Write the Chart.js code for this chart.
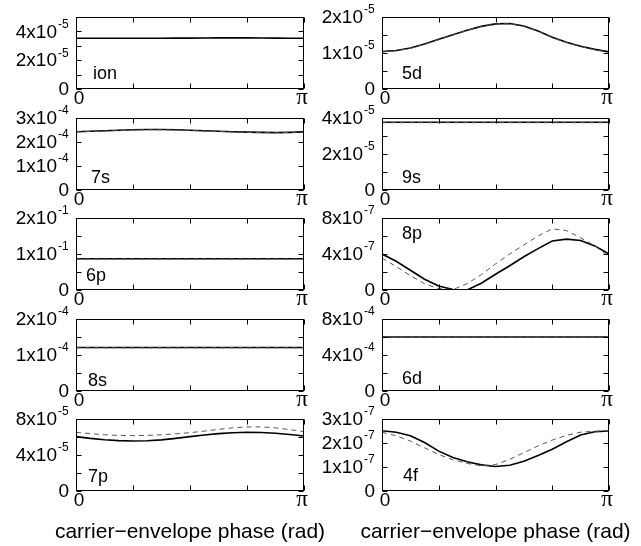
<!DOCTYPE html>
<html>
<head>
<meta charset="utf-8">
<script src="https://cdn.jsdelivr.net/npm/chart.js@4.4.1/dist/chart.umd.min.js"></script>
<style>
  html, body { margin: 0; padding: 0; background: #fff; }
  #wrap { position: relative; width: 641px; height: 546px; overflow: hidden; }
  #wrap canvas { position: absolute; }
</style>
</head>
<body>
<div id="wrap"></div>
<script>
// phase grid from 0 to pi (rad)
const phase = [0, 0.196, 0.393, 0.589, 0.785, 0.982, 1.178, 1.374, 1.571,
               1.767, 1.963, 2.160, 2.356, 2.553, 2.749, 2.945, 3.1416];
const xTicks = [0, 0.785, 1.571, 2.356, 3.1416];
const xTickLabels = ['0', 'π'];
const xTitle = 'carrier\u2212envelope phase (rad)';

// ion, units of 1e-5
const ionSolid  = [3.52, 3.52, 3.52, 3.52, 3.52, 3.52, 3.52, 3.53, 3.53, 3.54, 3.55, 3.55, 3.55, 3.54, 3.53, 3.52, 3.52];
const ionDashed = [0.01, 0.01, 0.01, 0.01, 0.01, 0.01, 0.01, 0.01, 0.01, 0.01, 0.01, 0.01, 0.01, 0.01, 0.01, 0.01, 0.01];
const ionTicks  = [0, 1, 2, 3, 4, 5];
const ionLabels = ['0', '2x10^-5', '4x10^-5'];
const ionLabelAt = [0, 2, 4];

// 5d, units of 1e-5
const d5Solid  = [1.04, 1.07, 1.14, 1.25, 1.38, 1.51, 1.63, 1.74, 1.81, 1.82, 1.75, 1.61, 1.44, 1.30, 1.19, 1.10, 1.03];
const d5Dashed = [1.03, 1.06, 1.13, 1.24, 1.37, 1.50, 1.63, 1.74, 1.81, 1.81, 1.74, 1.60, 1.43, 1.29, 1.18, 1.09, 1.02];
const d5Ticks  = [0, 0.5, 1, 1.5, 2];
const d5Labels = ['0', '1x10^-5', '2x10^-5'];
const d5LabelAt = [0, 1, 2];

// 7s, units of 1e-4
const s7Solid  = [2.43, 2.45, 2.47, 2.49, 2.51, 2.52, 2.52, 2.51, 2.49, 2.47, 2.45, 2.43, 2.41, 2.40, 2.39, 2.40, 2.42];
const s7Dashed = [2.42, 2.44, 2.46, 2.48, 2.50, 2.51, 2.51, 2.50, 2.48, 2.46, 2.44, 2.42, 2.40, 2.39, 2.39, 2.40, 2.41];
const s7Ticks  = [0, 1, 2, 3];
const s7Labels = ['0', '1x10^-4', '2x10^-4', '3x10^-4'];
const s7LabelAt = [0, 1, 2, 3];

// 9s, units of 1e-5
const s9Solid  = [3.76, 3.76, 3.76, 3.76, 3.76, 3.76, 3.76, 3.76, 3.76, 3.76, 3.76, 3.76, 3.76, 3.76, 3.76, 3.76, 3.76];
const s9Dashed = [3.74, 3.74, 3.74, 3.74, 3.74, 3.74, 3.74, 3.74, 3.74, 3.74, 3.74, 3.74, 3.74, 3.74, 3.74, 3.74, 3.74];
const s9Ticks  = [0, 1, 2, 3, 4];
const s9Labels = ['0', '2x10^-5', '4x10^-5'];
const s9LabelAt = [0, 2, 4];

// 6p, units of 1e-1
const p6Solid  = [0.87, 0.87, 0.87, 0.87, 0.87, 0.87, 0.87, 0.87, 0.87, 0.87, 0.87, 0.87, 0.87, 0.87, 0.87, 0.87, 0.87];
const p6Dashed = [0.86, 0.86, 0.86, 0.86, 0.86, 0.86, 0.86, 0.86, 0.86, 0.86, 0.86, 0.86, 0.86, 0.86, 0.86, 0.86, 0.86];
const p6Ticks  = [0, 0.5, 1, 1.5, 2];
const p6Labels = ['0', '1x10^-1', '2x10^-1'];
const p6LabelAt = [0, 1, 2];

// 8p, units of 1e-7
const p8Solid  = [4.0, 3.2, 2.2, 1.2, 0.45, 0.05, 0.0, 0.75, 1.75, 2.7, 3.7, 4.6, 5.45, 5.65, 5.5, 4.9, 4.0];
const p8Dashed = [3.55, 2.6, 1.6, 0.7, 0.15, 0.05, 0.7, 1.7, 2.9, 4.0, 5.0, 6.0, 6.8, 6.6, 5.8, 4.9, 3.7];
const p8Ticks  = [0, 2, 4, 6, 8];
const p8Labels = ['0', '4x10^-7', '8x10^-7'];
const p8LabelAt = [0, 4, 8];

// 8s, units of 1e-4
const s8Solid  = [1.21, 1.21, 1.21, 1.21, 1.21, 1.21, 1.21, 1.21, 1.21, 1.21, 1.21, 1.21, 1.21, 1.21, 1.21, 1.21, 1.21];
const s8Dashed = [1.20, 1.20, 1.20, 1.20, 1.20, 1.20, 1.20, 1.20, 1.20, 1.20, 1.20, 1.20, 1.20, 1.20, 1.20, 1.20, 1.20];
const s8Ticks  = [0, 0.5, 1, 1.5, 2];
const s8Labels = ['0', '1x10^-4', '2x10^-4'];
const s8LabelAt = [0, 1, 2];

// 6d, units of 1e-4
const d6Solid  = [6.0, 6.0, 6.0, 6.0, 6.0, 6.0, 6.0, 6.0, 6.0, 6.0, 6.0, 6.0, 6.0, 6.0, 6.0, 6.0, 6.0];
const d6Dashed = [5.98, 5.98, 5.98, 5.98, 5.98, 5.98, 5.98, 5.98, 5.98, 5.98, 5.98, 5.98, 5.98, 5.98, 5.98, 5.98, 5.98];
const d6Ticks  = [0, 2, 4, 6, 8];
const d6Labels = ['0', '4x10^-4', '8x10^-4'];
const d6LabelAt = [0, 4, 8];

// 7p, units of 1e-5
const p7Solid  = [6.04, 5.85, 5.70, 5.60, 5.56, 5.58, 5.68, 5.85, 6.04, 6.22, 6.37, 6.48, 6.52, 6.50, 6.42, 6.28, 6.11];
const p7Dashed = [6.52, 6.38, 6.25, 6.17, 6.15, 6.18, 6.25, 6.35, 6.48, 6.65, 6.85, 7.02, 7.12, 7.12, 7.02, 6.82, 6.60];
const p7Ticks  = [0, 2, 4, 6, 8];
const p7Labels = ['0', '4x10^-5', '8x10^-5'];
const p7LabelAt = [0, 4, 8];

// 4f, units of 1e-7
const f4Solid  = [2.51, 2.45, 2.30, 2.02, 1.66, 1.40, 1.22, 1.09, 1.02, 1.07, 1.24, 1.48, 1.74, 2.05, 2.33, 2.47, 2.50];
const f4Dashed = [2.45, 2.30, 2.08, 1.80, 1.52, 1.30, 1.15, 1.05, 1.10, 1.32, 1.60, 1.88, 2.12, 2.32, 2.45, 2.49, 2.51];
const f4Ticks  = [0, 1, 2, 3];
const f4Labels = ['0', '1x10^-7', '2x10^-7', '3x10^-7'];
const f4LabelAt = [0, 1, 2, 3];

const panels = [
  { name: 'ion', col: 0, row: 0, solid: ionSolid, dashed: ionDashed, yMax: 5, ticks: ionTicks, labels: ionLabels, labelAt: ionLabelAt, nameDx: 17, nameY: -15 },
  { name: '5d',  col: 1, row: 0, solid: d5Solid,  dashed: d5Dashed,  yMax: 2, ticks: d5Ticks,  labels: d5Labels,  labelAt: d5LabelAt,  nameDx: 20, nameY: -15 },
  { name: '7s',  col: 0, row: 1, solid: s7Solid,  dashed: s7Dashed,  yMax: 3, ticks: s7Ticks,  labels: s7Labels,  labelAt: s7LabelAt,  nameDx: 15, nameY: -12 },
  { name: '9s',  col: 1, row: 1, solid: s9Solid,  dashed: s9Dashed,  yMax: 4, ticks: s9Ticks,  labels: s9Labels,  labelAt: s9LabelAt,  nameDx: 20, nameY: -12 },
  { name: '6p',  col: 0, row: 2, solid: p6Solid,  dashed: p6Dashed,  yMax: 2, ticks: p6Ticks,  labels: p6Labels,  labelAt: p6LabelAt,  nameDx: 10, nameY: -14 },
  { name: '8p',  col: 1, row: 2, solid: p8Solid,  dashed: p8Dashed,  yMax: 8, ticks: p8Ticks,  labels: p8Labels,  labelAt: p8LabelAt,  nameDx: 20, nameY: 16 },
  { name: '8s',  col: 0, row: 3, solid: s8Solid,  dashed: s8Dashed,  yMax: 2, ticks: s8Ticks,  labels: s8Labels,  labelAt: s8LabelAt,  nameDx: 12, nameY: -10 },
  { name: '6d',  col: 1, row: 3, solid: d6Solid,  dashed: d6Dashed,  yMax: 8, ticks: d6Ticks,  labels: d6Labels,  labelAt: d6LabelAt,  nameDx: 20, nameY: -12 },
  { name: '7p',  col: 0, row: 4, solid: p7Solid,  dashed: p7Dashed,  yMax: 8, ticks: p7Ticks,  labels: p7Labels,  labelAt: p7LabelAt,  nameDx: 12, nameY: -14 },
  { name: '4f',  col: 1, row: 4, solid: f4Solid,  dashed: f4Dashed,  yMax: 3, ticks: f4Ticks,  labels: f4Labels,  labelAt: f4LabelAt,  nameDx: 21, nameY: -15 }
];

const rowTops = [17, 118, 218, 319, 419];
const plotH = 72;
const FONT = '"Liberation Sans", Arial, sans-serif';

// frame, inward ticks, tick labels and panel names
const panelDecor = {
  id: 'panelDecor',
  afterDatasetsDraw(chart, args, opts) {
    const { ctx, chartArea: a, scales: { x, y } } = chart;
    const p = opts.panel;
    const L = Math.round(a.left) + 0.5, R = Math.round(a.right) - 0.5;
    const T = Math.round(a.top) + 0.5, B = Math.round(a.bottom) - 0.5;
    ctx.save();
    ctx.strokeStyle = '#000';
    ctx.lineWidth = 1;
    ctx.beginPath();
    xTicks.forEach(v => {
      const px = Math.round(x.getPixelForValue(v)) + 0.5;
      ctx.moveTo(px, B); ctx.lineTo(px, B - 5);
      ctx.moveTo(px, T); ctx.lineTo(px, T + 5);
    });
    p.ticks.forEach(v => {
      const py = Math.round(y.getPixelForValue(v)) + 0.5;
      ctx.moveTo(L, py); ctx.lineTo(L + 5, py);
      ctx.moveTo(R, py); ctx.lineTo(R - 5, py);
    });
    ctx.stroke();
    ctx.strokeRect(L, T, R - L, B - T);

    // y tick labels with superscript exponents
    ctx.fillStyle = '#000';
    ctx.textBaseline = 'middle';
    p.labels.forEach((txt, i) => {
      const py = y.getPixelForValue(p.labelAt[i]);
      const parts = txt.split('^');
      ctx.font = '19px ' + FONT;
      ctx.textAlign = 'right';
      if (parts.length === 1) {
        ctx.fillText(parts[0], a.left - 7, py + 1);
      } else {
        ctx.fillText(parts[0], a.left - 19, py + 1);
        ctx.font = '12px ' + FONT;
        ctx.textAlign = 'left';
        ctx.fillText(parts[1], a.left - 18, py - 7);
      }
    });

    // x tick labels: 0 and pi
    ctx.textBaseline = 'alphabetic';
    ctx.textAlign = 'center';
    ctx.font = '19px ' + FONT;
    ctx.fillText(xTickLabels[0], x.getPixelForValue(xTicks[0]) + 3, a.bottom + 15);
    ctx.font = '23px "Liberation Serif", "DejaVu Serif", serif';
    ctx.fillText(xTickLabels[1], x.getPixelForValue(xTicks[4]) - 2, a.bottom + 15);

    // panel name
    ctx.font = '18px ' + FONT;
    ctx.textAlign = 'left';
    ctx.textBaseline = 'middle';
    const ny = p.nameY < 0 ? a.bottom + p.nameY : a.top + p.nameY;
    ctx.fillText(p.name, a.left + p.nameDx, ny);

    // axis title under the bottom row
    if (p.row === 4) {
      ctx.font = '21px ' + FONT;
      ctx.textAlign = 'center';
      ctx.textBaseline = 'alphabetic';
      ctx.fillText(xTitle, (a.left + a.right) / 2, 538 - (rowTops[4] - 17));
    }
    ctx.restore();
  }
};

const wrap = document.getElementById('wrap');

panels.forEach(p => {
  const cLeft = p.col ? 320 : 0;
  const cWidth = p.col ? 321 : (p.row === 4 ? 340 : 320);
  const plotRight = p.col ? 609 : 304;
  const cTop = rowTops[p.row] - 17;
  const cHeight = p.row === 4 ? 546 - cTop : 113;
  const canvas = document.createElement('canvas');
  canvas.width = cWidth;
  canvas.height = cHeight;
  canvas.style.left = cLeft + 'px';
  canvas.style.top = cTop + 'px';
  canvas.style.width = cWidth + 'px';
  canvas.style.height = cHeight + 'px';
  wrap.appendChild(canvas);

  new Chart(canvas.getContext('2d'), {
    type: 'line',
    data: {
      datasets: [
        {
          data: phase.map((v, i) => ({ x: v, y: p.dashed[i] })),
          borderColor: '#555',
          borderWidth: 1,
          borderDash: [5, 4],
          pointRadius: 0,
          tension: 0
        },
        {
          data: phase.map((v, i) => ({ x: v, y: p.solid[i] })),
          borderColor: '#000',
          borderWidth: 1.6,
          pointRadius: 0,
          tension: 0
        }
      ]
    },
    options: {
      responsive: false,
      animation: false,
      events: [],
      layout: {
        padding: {
          left: (p.col ? 382 : 76) - cLeft,
          right: cLeft + cWidth - plotRight,
          top: 17,
          bottom: cHeight - 17 - plotH
        }
      },
      scales: {
        x: { type: 'linear', min: 0, max: 3.1416, display: false },
        y: { type: 'linear', min: 0, max: p.yMax, display: false }
      },
      plugins: {
        legend: { display: false },
        tooltip: { enabled: false },
        panelDecor: { panel: p }
      }
    },
    plugins: [panelDecor]
  });
});
</script>
</body>
</html>
